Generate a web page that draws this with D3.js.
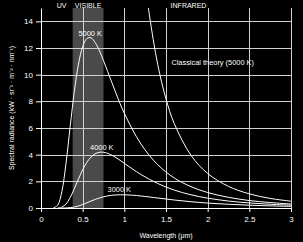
<!DOCTYPE html>
<html>
<head>
<meta charset="utf-8">
<script src="https://cdn.jsdelivr.net/npm/d3@7"></script>
<style>
  html, body { margin: 0; padding: 0; background: #000; }
  svg { display: block; font-family: "Liberation Sans", Arial, sans-serif; }
</style>
</head>
<body>
<script>
// wavelength (µm) and spectral radiance
const wl5000 = [0.15, 0.2, 0.25, 0.3, 0.35, 0.4, 0.45, 0.5, 0.55, 0.6, 0.65, 0.7, 0.8, 0.9, 1.0, 1.2, 1.4, 1.6, 1.8, 2.0, 2.25, 2.5, 2.75, 3.0];
const val5000 = [0.01, 0.21, 1.22, 3.35, 6.1, 8.74, 10.8, 12.1, 12.71, 12.76, 12.41, 11.81, 10.24, 8.6, 7.1, 4.79, 3.25, 2.25, 1.6, 1.16, 0.8, 0.56, 0.41, 0.3];
const wl4000 = [0.2, 0.25, 0.3, 0.35, 0.4, 0.45, 0.5, 0.55, 0.6, 0.65, 0.7, 0.75, 0.8, 0.9, 1.0, 1.2, 1.4, 1.6, 1.8, 2.0, 2.25, 2.5, 2.75, 3.0];
const val4000 = [0.0, 0.07, 0.3, 0.78, 1.45, 2.18, 2.87, 3.42, 3.82, 4.07, 4.18, 4.18, 4.1, 3.78, 3.35, 2.51, 1.84, 1.34, 0.99, 0.74, 0.52, 0.38, 0.28, 0.21];
const wl3000 = [0.25, 0.3, 0.35, 0.4, 0.45, 0.5, 0.55, 0.6, 0.65, 0.7, 0.8, 0.9, 1.0, 1.1, 1.2, 1.4, 1.6, 1.8, 2.0, 2.25, 2.5, 2.75, 3.0];
const val3000 = [0.0, 0.002, 0.025, 0.072, 0.15, 0.26, 0.39, 0.52, 0.64, 0.75, 0.91, 0.98, 0.99, 0.96, 0.9, 0.75, 0.6, 0.47, 0.37, 0.28, 0.21, 0.16, 0.12];
const wlClassic = [1.25, 1.3, 1.4, 1.5, 1.6, 1.8, 2.0, 2.25, 2.5, 2.75, 3.0];
const valClassic = [16.97, 14.51, 10.78, 8.18, 6.32, 3.95, 2.59, 1.62, 1.06, 0.72, 0.51];

const xTicks = [0, 0.5, 1, 1.5, 2, 2.5, 3];
const yTicks = [0, 2, 4, 6, 8, 10, 12, 14];
const visibleBand = [0.38, 0.75];
const regionLabels = [["UV", 0.246], ["VISIBLE", 0.565], ["INFRARED", 1.77]];
const curveLabels = [
  ["5000 K", 0.59, 12.9],
  ["4000 K", 0.73, 4.35],
  ["3000 K", 0.94, 1.22],
  ["Classical theory (5000 K)", 2.06, 10.75]
];

const width = 303, height = 242;
const margin = { left: 41, right: 12, top: 8, bottom: 34 };

const svg = d3.select("body").append("svg")
  .attr("width", width)
  .attr("height", height);

const x = d3.scaleLinear().domain([0, 3]).range([margin.left, width - margin.right]);
const y = d3.scaleLinear().domain([0, 15]).range([height - margin.bottom, margin.top]);

svg.append("defs").append("clipPath").attr("id", "plot")
  .append("rect")
  .attr("x", x(0)).attr("y", y(15))
  .attr("width", x(3) - x(0)).attr("height", y(0) - y(15));

// visible band
svg.append("rect")
  .attr("x", x(visibleBand[0]))
  .attr("y", y(15))
  .attr("width", x(visibleBand[1]) - x(visibleBand[0]))
  .attr("height", y(0) - y(15))
  .attr("fill", "#4a4a4a");

// grid
svg.append("g").selectAll("line").data(yTicks.slice(1)).enter().append("line")
  .attr("x1", x(0)).attr("x2", x(3))
  .attr("y1", d => Math.round(y(d)) + 0.5).attr("y2", d => Math.round(y(d)) + 0.5)
  .attr("stroke", "#d0d0d0").attr("stroke-width", 1);
svg.append("g").selectAll("line").data(xTicks.slice(1)).enter().append("line")
  .attr("y1", y(15)).attr("y2", y(0))
  .attr("x1", d => Math.round(x(d)) + 0.5).attr("x2", d => Math.round(x(d)) + 0.5)
  .attr("stroke", "#d0d0d0").attr("stroke-width", 1);

// axes
const xAxis = svg.append("g")
  .attr("transform", `translate(0, ${y(0)})`)
  .call(d3.axisBottom(x).tickValues(xTicks).tickSize(4).tickSizeOuter(0).tickPadding(4)
    .tickFormat(d3.format("")));
const yAxis = svg.append("g")
  .attr("transform", `translate(${x(0)}, 0)`)
  .call(d3.axisLeft(y).tickValues(yTicks).tickSize(5).tickSizeOuter(0).tickPadding(3));

[xAxis, yAxis].forEach(g => {
  g.select(".domain").attr("stroke", "#fff");
  g.selectAll(".tick line").attr("stroke", "#fff");
  g.selectAll(".tick text").attr("fill", "#fff").style("font-size", "8px")
    .style("font-family", "Liberation Sans, Arial, sans-serif");
});

// curves
const line = d3.line()
  .x(d => x(d[0]))
  .y(d => y(d[1]))
  .curve(d3.curveCatmullRom.alpha(0.5));

const series = [
  d3.zip(wl5000, val5000),
  d3.zip(wl4000, val4000),
  d3.zip(wl3000, val3000),
  d3.zip(wlClassic, valClassic)
];

svg.append("g").attr("clip-path", "url(#plot)")
  .selectAll("path").data(series).enter().append("path")
  .attr("d", line)
  .attr("fill", "none")
  .attr("stroke", "#fff")
  .attr("stroke-width", 1);

// labels
svg.append("g").selectAll("text").data(regionLabels).enter().append("text")
  .attr("x", d => x(d[1])).attr("y", 8)
  .attr("text-anchor", "middle")
  .attr("fill", "#fff")
  .style("font-size", "7px")
  .text(d => d[0]);

svg.append("g").selectAll("text").data(curveLabels).enter().append("text")
  .attr("x", d => x(d[1])).attr("y", d => y(d[2]))
  .attr("text-anchor", "middle")
  .attr("fill", "#fff")
  .style("font-size", "7.4px")
  .text(d => d[0]);

svg.append("text")
  .attr("x", (x(0) + x(3)) / 2).attr("y", 238)
  .attr("text-anchor", "middle")
  .attr("fill", "#fff")
  .style("font-size", "7px")
  .text("Wavelength (μm)");

svg.append("text")
  .attr("transform", `translate(14, ${(y(0) + y(15)) / 2}) rotate(-90)`)
  .attr("text-anchor", "middle")
  .attr("fill", "#fff")
  .style("font-size", "7px")
  .text("Spectral radiance (kW · sr⁻¹ · m⁻² · nm⁻¹)");
</script>
</body>
</html>
